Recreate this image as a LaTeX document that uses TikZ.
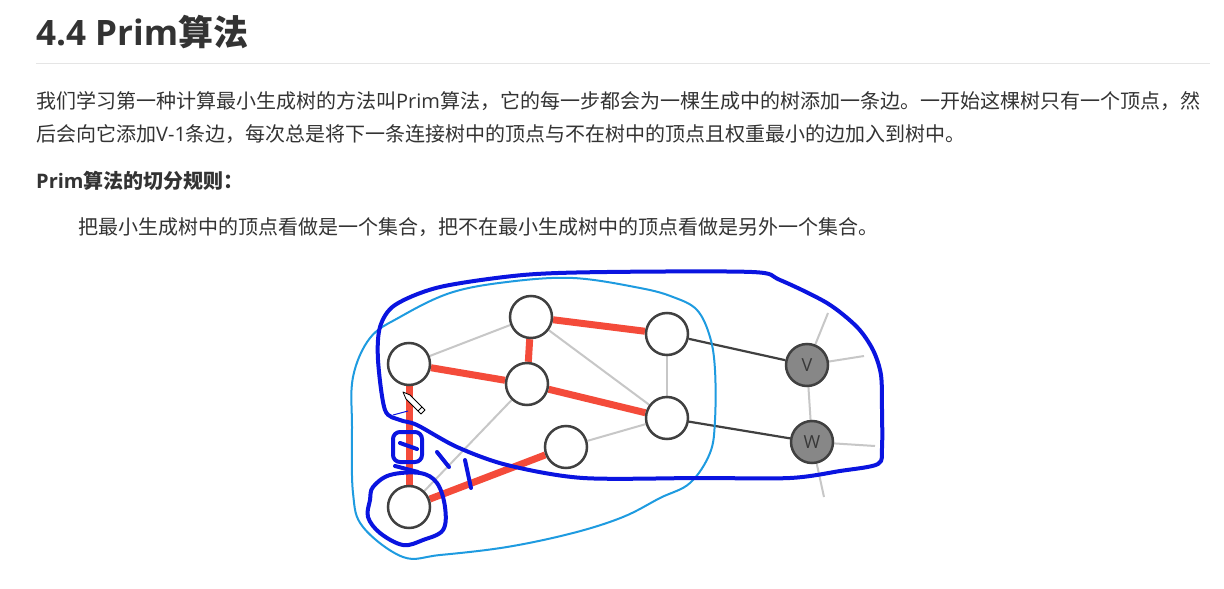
\documentclass[tikz,border=0pt]{standalone}
\usepackage{fontspec}
\setmainfont{Open Sans}
\newfontfamily\cjk{Noto Sans CJK SC}
\usetikzlibrary{backgrounds}
\definecolor{txt}{HTML}{333333}
\definecolor{mst}{HTML}{F44B3A}
\definecolor{pen}{HTML}{0A14E0}
\definecolor{penlight}{HTML}{1E9BE0}

\begin{document}
\begin{tikzpicture}[x=1pt, y=-1pt,
  vert/.style={circle, draw=black!75, line width=2.5pt, fill=#1, minimum size=42pt, inner sep=0pt,
    font=\fontsize{18}{18}\selectfont, text=black!78},
  vert/.default=white,
  light/.style={line width=2pt, black!22},
  tree/.style={line width=7pt, mst},
  cross/.style={line width=2.2pt, black!75},
  ink/.style={pen, line width=4pt, line cap=round, line join=round},
  thinink/.style={penlight, line width=2pt},
  txtline/.style={anchor=base west, inner sep=0pt, text=txt, font=\fontsize{20}{24}\selectfont}
]
  \useasboundingbox (0,0) rectangle (1224,589);

  % heading and text
  \node[anchor=base west, inner sep=0pt, text=txt, font=\fontsize{35}{40}\selectfont\bfseries] (title) at (36,45) {4.4 Prim{\cjk 算法}};
  \draw[black!10, line width=1pt] (36,63) -- (1210,63);
  \node[txtline] (p1) at (36,108) {{\cjk 我们学习第一种计算最小生成树的方法叫}Prim{\cjk 算法，它的每一步都会为一棵生成中的树添加一条边。一开始这棵树只有一个顶点，然}};
  \node[txtline] (p2) at (36,141) {{\cjk 后会向它添加}V-1{\cjk 条边，每次总是将下一条连接树中的顶点与不在树中的顶点且权重最小的边加入到树中。}};
  \node[txtline, font=\fontsize{20}{24}\selectfont\bfseries] (rule) at (36,188) {Prim{\cjk 算法的切分规则：}};
  \node[txtline] (p3) at (78,234) {{\cjk 把最小生成树中的顶点看做是一个集合，把不在最小生成树中的顶点看做是另外一个集合。}};

  % graph
  \node[vert] (a) at (409,364) {};
  \node[vert] (b) at (531,317) {};
  \node[vert] (c) at (667,334) {};
  \node[vert] (d) at (527,384) {};
  \node[vert] (e) at (667,418) {};
  \node[vert] (f) at (566,447) {};
  \node[vert] (g) at (409,507) {};
  \node[vert=black!47] (v) at (807,365) {V};
  \node[vert=black!47] (w) at (812,442) {W};
  \coordinate (v1) at (828,313);
  \coordinate (v2) at (864,356);
  \coordinate (w1) at (875,446);
  \coordinate (w2) at (824,497);

  \begin{scope}[on background layer]
    \fill[white] (0,0) rectangle (1224,589);
    \draw[light] (a) -- (b);
    \draw[light] (b) -- (e);
    \draw[light] (c) -- (e);
    \draw[light] (d) -- (g);
    \draw[light] (e) -- (f);
    \draw[light] (v) -- (w);
    \draw[light] (v) -- (v1);
    \draw[light] (v) -- (v2);
    \draw[light] (w) -- (w1);
    \draw[light] (w) -- (w2);
    \draw[cross] (c) -- (v);
    \draw[cross] (e) -- (w);
    \draw[tree] (a) -- (d);
    \draw[tree] (a) -- (g);
    \draw[tree] (b) -- (c);
    \draw[tree] (b) -- (d);
    \draw[tree] (d) -- (e);
    \draw[tree] (f) -- (g);
  \end{scope}

  % hand drawn cut
  \draw[thinink] plot[smooth cycle, tension=0.6] coordinates {
    (370,338) (400,317) (450,293) (507,282) (573,278) (640,288) (673,297) (697,310)
    (710,337) (715,370) (715,420) (710,453) (690,483) (660,498) (623,517) (573,533)
    (507,547) (440,555) (403,557) (363,527) (353,493) (352,427) (353,377)};
  \draw[ink] plot[smooth cycle, tension=0.5] coordinates {
    (395,305) (440,287) (523,275) (607,272) (752,272) (780,280) (827,303) (857,327)
    (873,350) (881,375) (882,410) (882,447) (878,464) (840,471) (790,478) (700,478)
    (583,478) (507,465) (457,447) (417,425) (400,420) (385,410) (378,360) (380,327)};
  \draw[ink] plot[smooth cycle, tension=0.6] coordinates {
    (373,487) (390,475) (420,473) (437,483) (445,507) (443,530) (423,540) (403,545)
    (380,533) (368,517) (370,500)};
  \draw[ink, rounded corners=7pt] (393,432) rectangle (422,462);
  \draw[ink] (400,443) -- (417,449);
  \draw[ink] (395,466) -- (418,472);
  \draw[ink] (437,452) -- (449,467);
  \draw[ink] (465,460) -- (471,488);
  \draw[pen, line width=1pt] (393,415) -- (408,411);

  % pencil cursor
  \draw[black, line width=0.8pt, fill=white, line join=round] (403,392) -- (410,395) -- (425,410) -- (421,414) -- (406,399) -- cycle;
  \draw[black, line width=0.8pt] (422,407) -- (418,411);
\end{tikzpicture}
\end{document}
